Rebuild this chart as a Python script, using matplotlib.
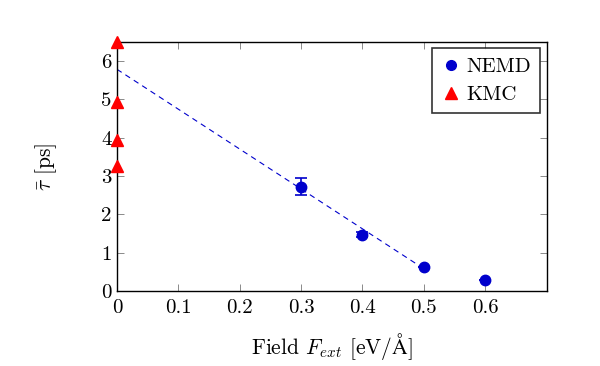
import matplotlib.pyplot as plt
from matplotlib.lines import Line2D
import numpy as np

# NEMD data
nemd_field = [0.3, 0.4, 0.5, 0.6]
nemd_tau = [2.72, 1.47, 0.62, 0.29]
nemd_err = [0.22, 0.06, 0.0, 0.0]

# KMC data (zero field)
kmc_field = [0.0, 0.0, 0.0, 0.0]
kmc_tau = [6.5, 4.92, 3.93, 3.27]

# linear fit to NEMD points
fit_intercept = 5.78
fit_slope = -10.4
fit_range = [0.0, 0.5]

xticks = [0, 0.1, 0.2, 0.3, 0.4, 0.5, 0.6]
yticks = [0, 1, 2, 3, 4, 5, 6]

blue = '#0000cc'
red = '#ff0000'

plt.rcParams['font.family'] = 'serif'
plt.rcParams['font.serif'] = ['cmr10']
plt.rcParams['mathtext.fontset'] = 'cm'
plt.rcParams['axes.formatter.use_mathtext'] = True

fig = plt.figure(figsize=(6, 3.66), dpi=100)
ax = fig.add_axes([0.195, 0.205, 0.716, 0.681])

xf = np.array(fit_range)
ax.plot(xf, fit_intercept + fit_slope * xf, '--', color=blue, lw=0.8,
        dashes=(5, 4))

ax.errorbar(nemd_field, nemd_tau, yerr=nemd_err, fmt='o', color=blue,
            markersize=7.5, capsize=4, elinewidth=1.2, capthick=1.2,
            clip_on=False, zorder=3)
ax.plot(kmc_field, kmc_tau, '^', color=red, markersize=9,
        linestyle='none', clip_on=False, zorder=4)

ax.set_xlim(0, 0.7)
ax.set_ylim(0, 6.5)
ax.set_xticks(xticks)
ax.set_yticks(yticks)
ax.set_xticklabels([str(t) for t in xticks])
ax.set_yticklabels([str(t) for t in yticks])
ax.tick_params(direction='in', top=True, right=True, length=5, width=0.6,
               color='#777777', labelsize=15)
ax.tick_params(axis='x', pad=6)
ax.tick_params(axis='y', pad=4)
for s in ax.spines.values():
    s.set_linewidth(1.0)

ax.set_xlabel(r'Field $F_{ext}$ [eV/$\mathrm{\AA}$]', fontsize=15.5,
              labelpad=10)
ax.set_ylabel(r'$\bar{\tau}$ [ps]', fontsize=15.5, labelpad=30)

handles = [
    Line2D([], [], marker='o', color=blue, linestyle='none', markersize=7),
    Line2D([], [], marker='^', color=red, linestyle='none', markersize=8),
]
leg = ax.legend(handles, ['NEMD', 'KMC'], loc='upper right', fontsize=15,
                frameon=True, fancybox=False, edgecolor='black',
                borderaxespad=0.3, handletextpad=0.3, handlelength=0.9,
                labelspacing=0.45, borderpad=0.45)
leg.get_frame().set_linewidth(1.2)

fig.savefig('out.png', dpi=100)
